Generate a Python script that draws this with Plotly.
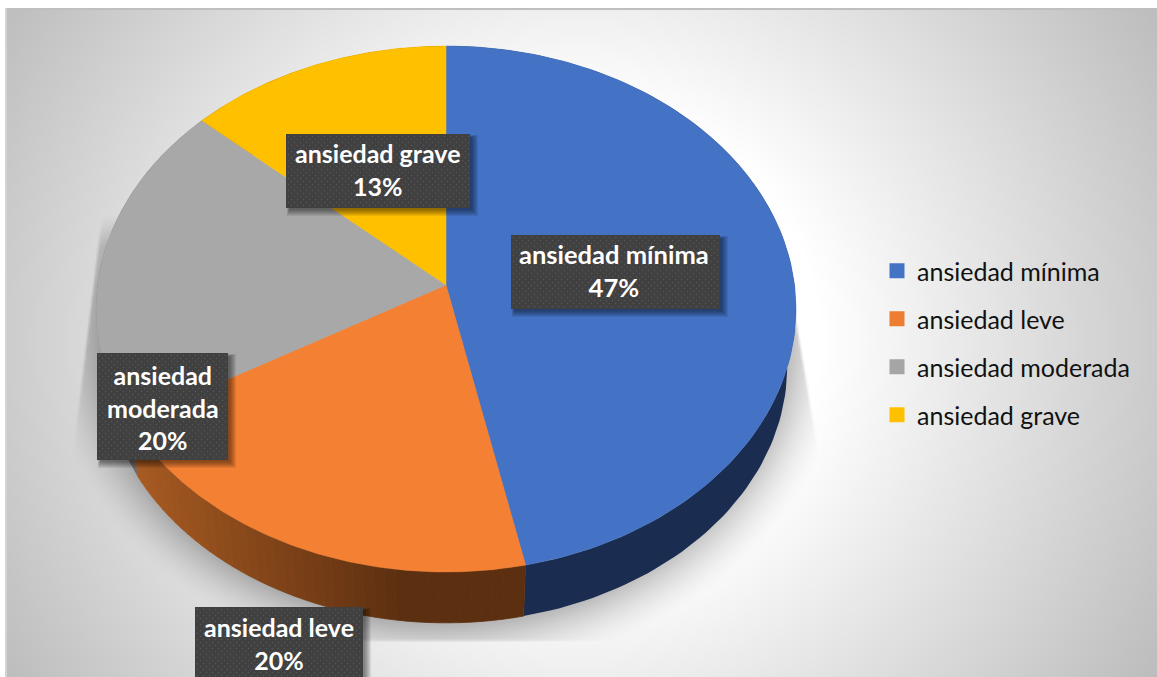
import numpy as np
import plotly.graph_objects as go

# ---- data ----
categories = ["ansiedad mínima", "ansiedad leve", "ansiedad moderada", "ansiedad grave"]
values = [7, 3, 3, 2]
label_lines = [["ansiedad mínima"], ["ansiedad leve"], ["ansiedad", "moderada"], ["ansiedad grave"]]

# ---- styles ----
top_colors = ["#4472C4", "#F48033", "#A8A8A8", "#FFC000"]
legend_colors = ["#4472C4", "#ED7D31", "#A5A5A5", "#FFC000"]
wall_colors = ["#1A2D50", None, "#6A6A6A", "#7F6000"]
label_boxes = [(511, 720, 235, 309), (195, 363, 607, 690), (97, 228, 353, 460), (286, 470, 134, 208)]
label_mid_y = [270, 643, 407, 169]
W, H = 1157, 677
FONT = "Lato"

# perspective projection of the pie disc (pixel space)
CX, CY, SX, SY, K = 446.0, 285.0, 348.5, 260.8, 0.0913
DROP, SHRINK = 58.0, 0.975


def project(theta):
    w = 1 + K * np.cos(theta)
    return CX + SX * np.sin(theta) / w, CY - SY * np.cos(theta) / w


def project_low(theta):
    x, y = project(theta)
    return CX + (x - CX) * SHRINK, CY + DROP + (y - CY) * SHRINK


def lerp_hex(a, b, t):
    t = max(0.0, min(1.0, t))
    ca = [int(a[i:i + 2], 16) for i in (1, 3, 5)]
    cb = [int(b[i:i + 2], 16) for i in (1, 3, 5)]
    return "#%02x%02x%02x" % tuple(round(p + (q - p) * t) for p, q in zip(ca, cb))


# ---- background: radial grey gradient + clipped soft shadow ----
gx = np.arange(7, W + 2, 2.0)
gy = np.arange(10, H + 2, 2.0)
XX, YY = np.meshgrid(gx, gy)
dx = (XX - 578) / 572
dy = (YY - 340) / 330
r = np.sqrt(dx ** 2 + (0.6 * dy) ** 2)
bg = 255 - 51 * np.clip((r - 0.42) / 0.58, 0, None)
e = np.sqrt(((XX - 446) / 345) ** 2 + ((YY - 337) / 288) ** 2)
dist = (e - 1) * 310
shadow = 62 * np.clip(1 - dist / 52, 0, 1) ** 1.6
left_edge = 98 - (YY - 233) * 28 / 230
right_edge = 793 + (YY - 297) * 27 / 160
mask = np.clip((XX - left_edge) / 3, 0, 1) * np.clip((right_edge - XX) / 3, 0, 1) * np.clip((642 - YY) / 3, 0, 1)
mask = mask * np.clip((YY - 215) / 30, 0, 1)
z = np.clip(bg - shadow * mask, 0, 255).round().astype(np.uint8)

fig = go.Figure()
fig.add_trace(go.Heatmap(x=gx, y=gy, z=z, zmin=0, zmax=255, zsmooth="best",
                         colorscale=[[0, "#000000"], [1, "#ffffff"]],
                         showscale=False, hoverinfo="skip"))

# ---- pie geometry from the values ----
total = sum(values)
edges = np.concatenate([[0.0], np.cumsum(values)]) / total * 2 * np.pi

# walls
for i in range(len(values)):
    a0, a1 = edges[i], edges[i + 1]
    if i == 1:
        nseg = 44
        cuts = np.linspace(a0, a1, nseg + 1)
        for j in range(nseg):
            t = np.linspace(cuts[j], cuts[j + 1], 4)
            xa, ya = project(t)
            xb, yb = project_low(t)
            frac = (xa.mean() - 130) / (400 - 130)
            col = lerp_hex("#A85B22", "#5C2F10", frac)
            fig.add_trace(go.Scatter(x=np.r_[xa, xb[::-1], xa[0]], y=np.r_[ya, yb[::-1], ya[0]],
                                     mode="lines", fill="toself", fillcolor=col,
                                     line=dict(color=col, width=0.8), showlegend=False, hoverinfo="skip"))
    else:
        t = np.linspace(a0, a1, 120)
        xa, ya = project(t)
        xb, yb = project_low(t)
        fig.add_trace(go.Scatter(x=np.r_[xa, xb[::-1], xa[0]], y=np.r_[ya, yb[::-1], ya[0]],
                                 mode="lines", fill="toself", fillcolor=wall_colors[i],
                                 line=dict(color=wall_colors[i], width=0), showlegend=False, hoverinfo="skip"))

# top faces
for i, cat in enumerate(categories):
    t = np.linspace(edges[i], edges[i + 1], 160)
    xa, ya = project(t)
    fig.add_trace(go.Scatter(x=np.r_[CX, xa, CX], y=np.r_[CY, ya, CY], mode="lines", fill="toself",
                             fillcolor=top_colors[i], line=dict(color=top_colors[i], width=0.5),
                             name=cat, showlegend=False, hoverinfo="name"))

# labels: shadow, dark box, dot texture
annotations = []
for i, cat in enumerate(categories):
    x0, x1, y0, y1 = label_boxes[i]
    for s in range(7):
        fig.add_trace(go.Scatter(x=[x0 + 1 + s * 0.4, x1 + 8 - s, x1 + 8 - s, x0 + 1 + s * 0.4, x0 + 1 + s * 0.4],
                                 y=[y0 + 1 + s * 0.4, y0 + 1 + s * 0.4, y1 + 8 - s, y1 + 8 - s, y0 + 1 + s * 0.4],
                                 mode="lines", fill="toself", fillcolor="rgba(0,0,0,0.075)",
                                 line=dict(width=0), showlegend=False, hoverinfo="skip"))
    fig.add_trace(go.Scatter(x=[x0, x1, x1, x0, x0], y=[y0, y0, y1, y1, y0], mode="lines", fill="toself",
                             fillcolor="#404040", line=dict(width=0), showlegend=False, hoverinfo="skip"))
    px, py = [], []
    for row, yy in enumerate(np.arange(y0 + 2.5, y1, 3.0)):
        for xx in np.arange(x0 + 2.5 + (row % 2) * 3, x1 - 1, 6.0):
            px.append(xx)
            py.append(yy)
    fig.add_trace(go.Scatter(x=px, y=py, mode="markers", showlegend=False, hoverinfo="skip",
                             marker=dict(symbol="square", size=1.4, color="#565656", line=dict(width=0))))
    pct = round(values[i] / total * 100)
    lines = label_lines[i] + [f"{pct}%"]
    annotations.append(dict(x=(x0 + x1) / 2 - (2 if i in (0,) else 0), y=label_mid_y[i], xref="x", yref="y",
                            showarrow=False, text="<br>".join(lines), align="center",
                            xanchor="center", yanchor="middle",
                            font=dict(family=FONT, size=25.5 if i == 0 else 25, color="#FFFFFF", weight="bold")))

# legend entries
for i, cat in enumerate(categories):
    fig.add_trace(go.Scatter(x=[None], y=[None], mode="markers", name=cat, legendgroup=cat,
                             marker=dict(symbol="square", size=15, color=legend_colors[i], line=dict(width=0))))

# frame edge
shapes = [
    dict(type="rect", xref="x", yref="y", x0=6, x1=W, y0=8, y1=10, fillcolor="#BFBFBF", line=dict(width=0), layer="above"),
    dict(type="rect", xref="x", yref="y", x0=5, x1=7, y0=8, y1=H, fillcolor="#D4D4D4", line=dict(width=0), layer="above"),
]

fig.update_layout(
    width=W, height=H, margin=dict(l=0, r=0, t=0, b=0),
    paper_bgcolor="#FFFFFF", plot_bgcolor="#FFFFFF",
    xaxis=dict(range=[0, W], visible=False, fixedrange=True),
    yaxis=dict(range=[H, 0], visible=False, fixedrange=True),
    annotations=annotations, shapes=shapes,
    legend=dict(x=877 / W, y=1 - 248 / H, xanchor="left", yanchor="top", bgcolor="rgba(0,0,0,0)",
                tracegroupgap=12.5, font=dict(family=FONT, size=25, color="#111111"),
                itemclick=False, itemdoubleclick=False),
    hovermode="closest",
)
fig.write_html("out.html", config={"displayModeBar": False}, post_script="document.body.style.margin='0';")
